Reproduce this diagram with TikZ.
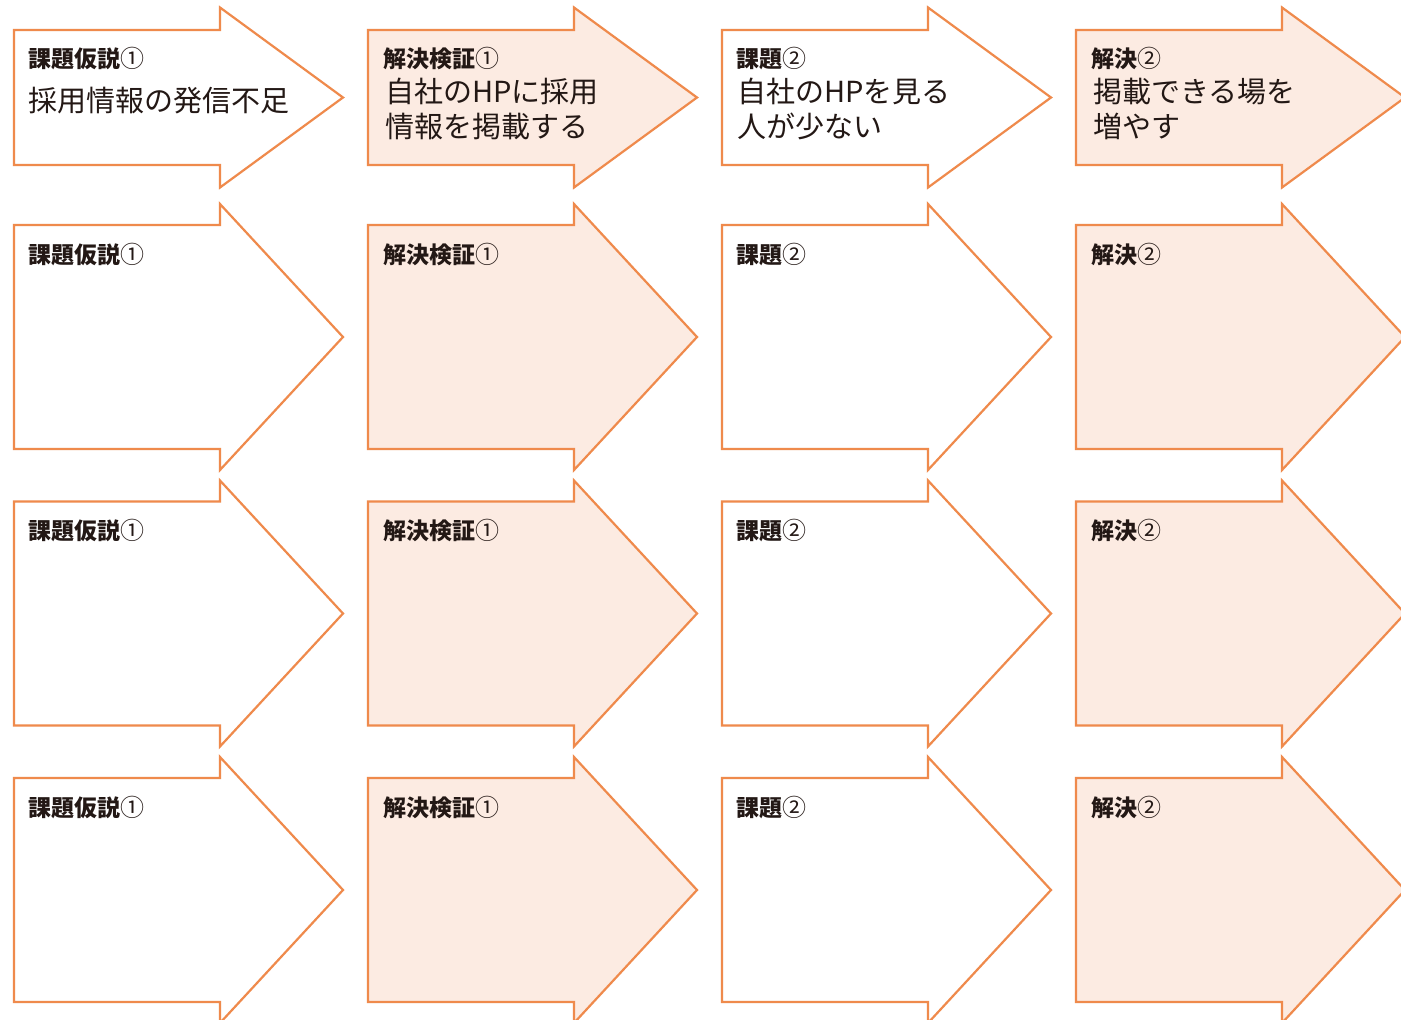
\documentclass[tikz,border=0pt]{standalone}
\usepackage{fontspec}
\setmainfont{Noto Sans CJK JP}
\definecolor{arrowline}{HTML}{EF8A4C}
\definecolor{arrowfill}{HTML}{FCEBE2}
\definecolor{ink}{HTML}{231815}
\newcommand\bigarrow[5]{%
  \filldraw[arr, fill=#5] (#1,#2) -- ({#1+206},#2) -- ({#1+206},{#2-#4}) -- ({#1+329},{(#2+#3)/2}) -- ({#1+206},{#3+#4}) -- ({#1+206},#3) -- (#1,#3) -- cycle;}
\newcommand\cnum[1]{{\mdseries\fontsize{24}{26}\selectfont #1}}
\begin{document}
\begin{tikzpicture}[x=1pt,y=-1pt,
  arr/.style={draw=arrowline, line width=2.2pt, line join=miter},
  lab/.style={anchor=base west, font=\fontsize{23}{26}\selectfont\bfseries, text=ink, inner sep=0},
  main/.style={anchor=base west, font=\fontsize{29}{35}\selectfont, text=ink, inner sep=0}]
\useasboundingbox[fill=white] (0,0) rectangle (1401,1020);
% row 1
\bigarrow{14}{30}{165}{22.5}{white}
\bigarrow{368}{30}{165}{22.5}{arrowfill}
\bigarrow{722}{30}{165}{22.5}{white}
\bigarrow{1076}{30}{165}{22.5}{arrowfill}
% rows 2-4
\foreach \t in {225,501.5,778}{
  \bigarrow{14}{\t}{\t+224}{21}{white}
  \bigarrow{368}{\t}{\t+224}{21}{arrowfill}
  \bigarrow{722}{\t}{\t+224}{21}{white}
  \bigarrow{1076}{\t}{\t+224}{21}{arrowfill}
}
% labels row 1
\node[lab] (l11) at (28,67) {課題仮説\cnum{①}};
\node[lab] (l12) at (383,67) {解決検証\cnum{①}};
\node[lab] (l13) at (736,67) {課題\cnum{②}};
\node[lab] (l14) at (1091,67) {解決\cnum{②}};
\node[main] (m11) at (28,111) {採用情報の発信不足};
\node[main] (m12a) at (385,102) {自社のHPに採用};
\node[main] (m12b) at (385,137) {情報を掲載する};
\node[main] (m13a) at (737,102) {自社のHPを見る};
\node[main] (m13b) at (737,137) {人が少ない};
\node[main] (m14a) at (1093,102) {掲載できる場を};
\node[main] (m14b) at (1093,137) {増やす};
% labels rows 2-4
\foreach \t/\n in {225/2,501.5/3,778/4}{
  \node[lab] (l\n1) at (28,\t+38) {課題仮説\cnum{①}};
  \node[lab] (l\n2) at (383,\t+38) {解決検証\cnum{①}};
  \node[lab] (l\n3) at (736,\t+38) {課題\cnum{②}};
  \node[lab] (l\n4) at (1091,\t+38) {解決\cnum{②}};
}
\end{tikzpicture}
\end{document}
